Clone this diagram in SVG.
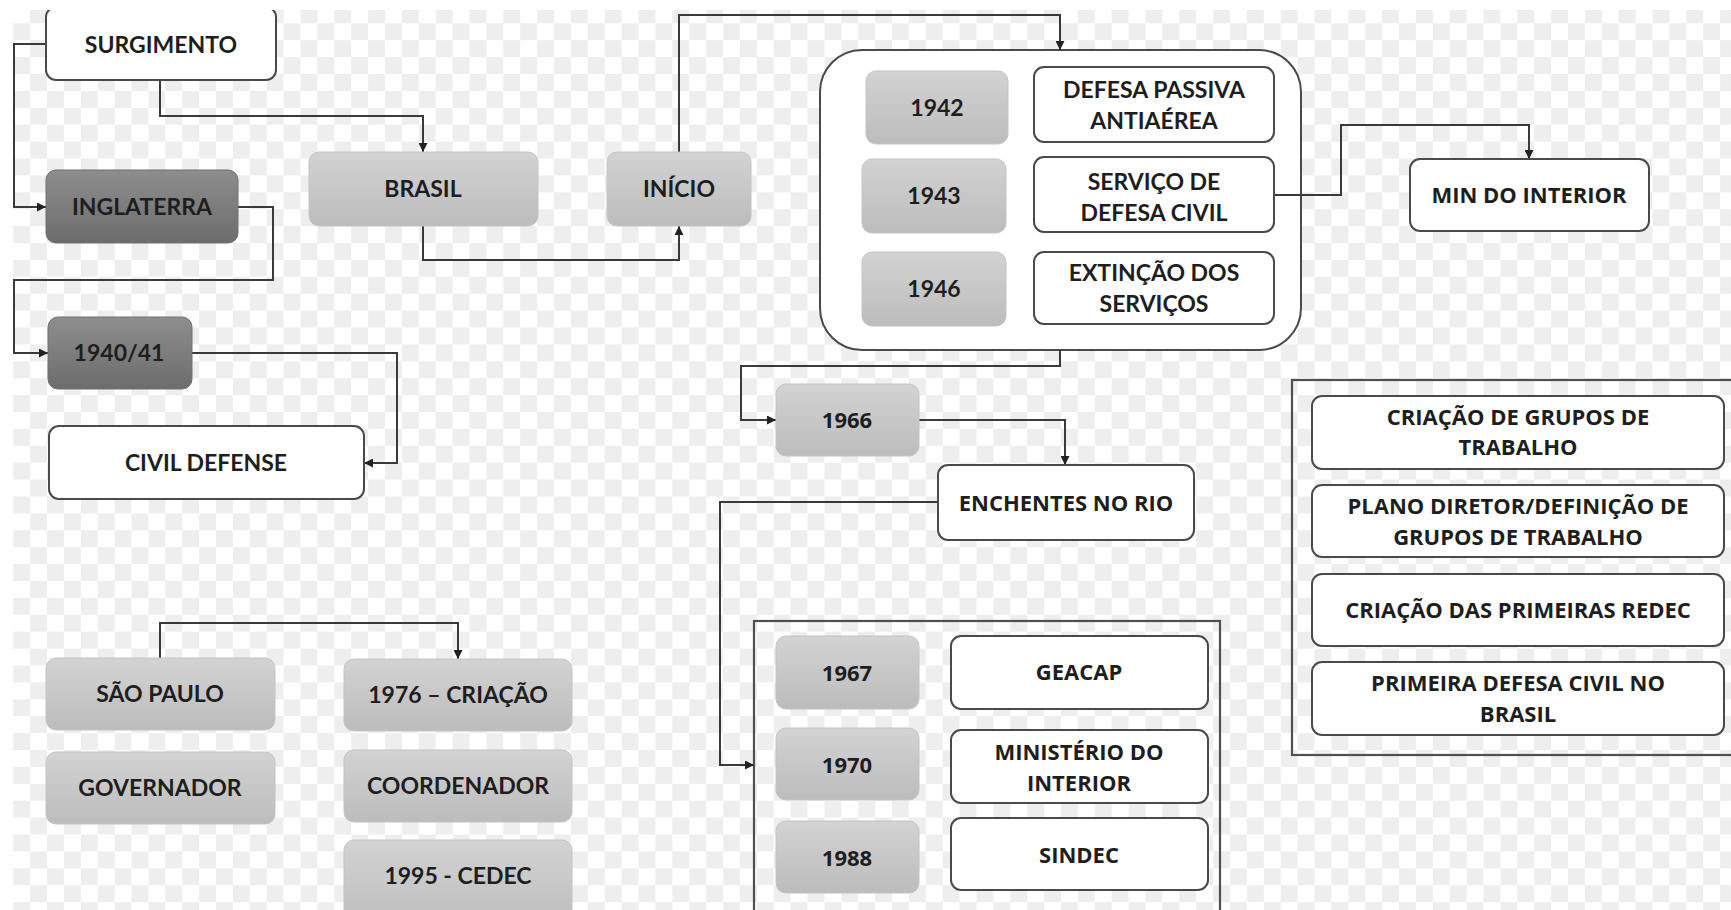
<svg xmlns="http://www.w3.org/2000/svg" width="1731" height="910" viewBox="0 0 1731 910">
<defs>
  <pattern id="checker" x="13.2" y="6.4" width="33.8" height="33.8" patternUnits="userSpaceOnUse">
    <rect x="0" y="0" width="33.8" height="33.8" fill="#ffffff"/>
    <rect x="16.9" y="0" width="16.9" height="16.9" fill="#eeeeee"/>
    <rect x="0" y="16.9" width="16.9" height="16.9" fill="#eeeeee"/>
  </pattern>
  <linearGradient id="gDark" x1="0" y1="0" x2="0" y2="1">
    <stop offset="0" stop-color="#8e8e8e"/>
    <stop offset="1" stop-color="#6c6c6c"/>
  </linearGradient>
  <linearGradient id="gLight" x1="0" y1="0" x2="0" y2="1">
    <stop offset="0" stop-color="#d3d3d3"/>
    <stop offset="1" stop-color="#bcbcbc"/>
  </linearGradient>
  <marker id="arr" markerWidth="9" markerHeight="9" refX="9" refY="4.5" orient="auto" markerUnits="userSpaceOnUse">
    <path d="M0,0 L9,4.5 L0,9 z" fill="#222"/>
  </marker>
  <style>
    .w { fill: #ffffff; stroke: #4a4a4a; stroke-width: 2; }
    .dk { fill: url(#gDark); stroke: #707070; stroke-width: 1; }
    .lt { fill: url(#gLight); stroke: #c4c4c4; stroke-width: 1; }
    .frame { fill: none; stroke: #505050; stroke-width: 2.2; }
    .n { font-family: Lato, "Liberation Sans", sans-serif; font-weight: 700; font-size: 23px; fill: #1e1e1e; text-anchor: middle; }
    .o { font-family: "Open Sans", "Liberation Sans", sans-serif; font-weight: 700; font-size: 22px; fill: #1e1e1e; text-anchor: middle; }
    .c { fill: none; stroke: #3a3a3a; stroke-width: 2; }
    .ca { fill: none; stroke: #3a3a3a; stroke-width: 2; marker-end: url(#arr); }
  </style>
</defs>

<rect x="0" y="0" width="1731" height="910" fill="#ffffff"/>
<rect x="13" y="10" width="1718" height="900" fill="url(#checker)"/>

<!-- containers -->
<g id="bigbox">
  <rect x="820" y="50" width="481" height="300" rx="42" class="w"/>
</g>
<g id="bottombox">
  <rect x="754" y="621" width="466" height="300" class="frame"/>
</g>
<g id="rightbox">
  <rect x="1292" y="380" width="460" height="375" class="frame"/>
</g>

<g id="connectors">
  <path class="ca" d="M46,44 H14 V207 H46"/>
  <path class="ca" d="M160,80 V116 H423 V152"/>
  <path class="ca" d="M238,207 H273 V280 H14 V353 H48"/>
  <path class="ca" d="M192,353 H397 V463 H364"/>
  <path class="ca" d="M423,226 V260 H679 V226"/>
  <path class="ca" d="M679,152 V15 H1060 V50"/>
  <path class="ca" d="M1060,350 V366 H741 V420 H776"/>
  <path class="ca" d="M1274,195 H1341 V125 H1529 V159"/>
  <path class="ca" d="M919,420 H1065 V465"/>
  <path class="ca" d="M938,502 H720 V765 H754"/>
  <path class="ca" d="M160,658 V623 H458 V659"/>
</g>

<g id="surgimento">
  <rect x="46" y="7" width="230" height="73" rx="10" class="w"/>
  <text class="n" x="161" y="53">SURGIMENTO</text>
</g>
<g id="inglaterra">
  <rect x="46" y="170" width="192" height="73" rx="10" class="dk"/>
  <text class="n" x="142" y="215">INGLATERRA</text>
</g>
<g id="brasil">
  <rect x="309" y="152" width="229" height="74" rx="10" class="lt"/>
  <text class="n" x="423" y="197">BRASIL</text>
</g>
<g id="inicio">
  <rect x="607" y="152" width="144" height="74" rx="10" class="lt"/>
  <text class="n" x="679" y="197">INÍCIO</text>
</g>
<g id="n1940">
  <rect x="48" y="317" width="144" height="72" rx="10" class="dk"/>
  <text class="n" x="119" y="361">1940/41</text>
</g>
<g id="civildefense">
  <rect x="49" y="426" width="315" height="73" rx="10" class="w"/>
  <text class="n" x="206" y="471">CIVIL DEFENSE</text>
</g>

<g id="n1942">
  <rect x="866" y="71" width="142" height="73" rx="10" class="lt"/>
  <text class="n" x="937" y="116">1942</text>
</g>
<g id="defesapassiva">
  <rect x="1034" y="67" width="240" height="75" rx="10" class="w"/>
  <text class="n" x="1154" y="98">DEFESA PASSIVA</text>
  <text class="n" x="1154" y="129">ANTIAÉREA</text>
</g>
<g id="n1943">
  <rect x="862" y="159" width="144" height="74" rx="10" class="lt"/>
  <text class="n" x="934" y="204">1943</text>
</g>
<g id="servico">
  <rect x="1034" y="157" width="240" height="75" rx="10" class="w"/>
  <text class="n" x="1154" y="190">SERVIÇO DE</text>
  <text class="n" x="1154" y="221">DEFESA CIVIL</text>
</g>
<g id="n1946">
  <rect x="862" y="252" width="144" height="74" rx="10" class="lt"/>
  <text class="n" x="934" y="297">1946</text>
</g>
<g id="extincao">
  <rect x="1034" y="252" width="240" height="72" rx="10" class="w"/>
  <text class="n" x="1154" y="281">EXTINÇÃO DOS</text>
  <text class="n" x="1154" y="312">SERVIÇOS</text>
</g>

<g id="mininterior">
  <rect x="1410" y="159" width="239" height="72" rx="10" class="w"/>
  <text class="o" x="1529" y="203">MIN DO INTERIOR</text>
</g>

<g id="n1966">
  <rect x="776" y="384" width="143" height="72" rx="10" class="lt"/>
  <text class="o" x="847" y="428">1966</text>
</g>
<g id="enchentes">
  <rect x="938" y="465" width="256" height="75" rx="10" class="w"/>
  <text class="o" x="1066" y="511">ENCHENTES NO RIO</text>
</g>

<g id="n1967">
  <rect x="776" y="636" width="143" height="73" rx="10" class="lt"/>
  <text class="o" x="847" y="681">1967</text>
</g>
<g id="geacap">
  <rect x="951" y="636" width="257" height="73" rx="10" class="w"/>
  <text class="o" x="1079" y="680">GEACAP</text>
</g>
<g id="n1970">
  <rect x="776" y="728" width="143" height="72" rx="10" class="lt"/>
  <text class="o" x="847" y="773">1970</text>
</g>
<g id="ministerio">
  <rect x="951" y="730" width="257" height="73" rx="10" class="w"/>
  <text class="o" x="1079" y="760">MINISTÉRIO DO</text>
  <text class="o" x="1079" y="791">INTERIOR</text>
</g>
<g id="n1988">
  <rect x="776" y="821" width="143" height="72" rx="10" class="lt"/>
  <text class="o" x="847" y="866">1988</text>
</g>
<g id="sindec">
  <rect x="951" y="818" width="257" height="72" rx="10" class="w"/>
  <text class="o" x="1079" y="863">SINDEC</text>
</g>

<g id="criacaogrupos">
  <rect x="1312" y="396" width="412" height="73" rx="10" class="w"/>
  <text class="o" x="1518" y="425">CRIAÇÃO DE GRUPOS DE</text>
  <text class="o" x="1518" y="455">TRABALHO</text>
</g>
<g id="planodiretor">
  <rect x="1312" y="485" width="412" height="72" rx="10" class="w"/>
  <text class="o" x="1518" y="514">PLANO DIRETOR/DEFINIÇÃO DE</text>
  <text class="o" x="1518" y="545">GRUPOS DE TRABALHO</text>
</g>
<g id="criacaoredec">
  <rect x="1312" y="574" width="412" height="72" rx="10" class="w"/>
  <text class="o" x="1518" y="618">CRIAÇÃO DAS PRIMEIRAS REDEC</text>
</g>
<g id="primeiradefesa">
  <rect x="1312" y="662" width="412" height="73" rx="10" class="w"/>
  <text class="o" x="1518" y="691">PRIMEIRA DEFESA CIVIL NO</text>
  <text class="o" x="1518" y="722">BRASIL</text>
</g>

<g id="saopaulo">
  <rect x="46" y="658" width="229" height="72" rx="10" class="lt"/>
  <text class="n" x="160" y="702">SÃO PAULO</text>
</g>
<g id="governador">
  <rect x="46" y="752" width="229" height="72" rx="10" class="lt"/>
  <text class="n" x="160" y="796">GOVERNADOR</text>
</g>
<g id="n1976">
  <rect x="344" y="659" width="228" height="72" rx="10" class="lt"/>
  <text class="n" x="458" y="703">1976 – CRIAÇÃO</text>
</g>
<g id="coordenador">
  <rect x="344" y="750" width="228" height="72" rx="10" class="lt"/>
  <text class="n" x="458" y="794">COORDENADOR</text>
</g>
<g id="n1995">
  <rect x="344" y="840" width="228" height="90" rx="10" class="lt"/>
  <text class="n" x="458" y="884">1995 - CEDEC</text>
</g>

<rect x="0" y="0" width="1731" height="10" fill="#ffffff"/>
<rect x="0" y="0" width="13" height="910" fill="#ffffff"/>
</svg>
